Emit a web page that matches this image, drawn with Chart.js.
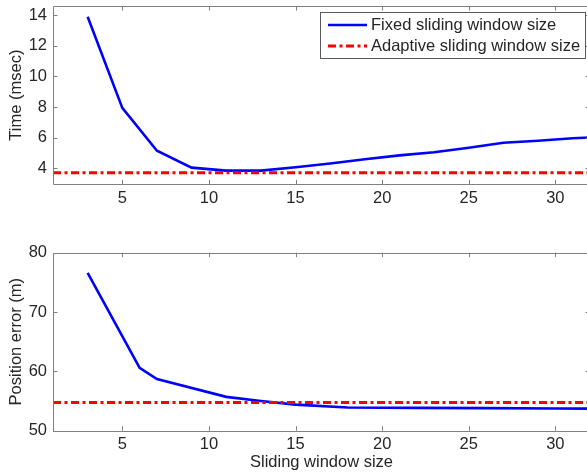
<!DOCTYPE html>
<html>
<head>
<meta charset="utf-8">
<script src="https://cdn.jsdelivr.net/npm/chart.js@4.4.0/dist/chart.umd.min.js"></script>
<style>
html,body{margin:0;padding:0;background:#fff;overflow:hidden;width:587px;height:474px;}
canvas{position:absolute;left:0;}
#c1{top:0;}
#c2{top:230px;}
</style>
</head>
<body>
<canvas id="c1" width="600" height="215"></canvas>
<canvas id="c2" width="600" height="244"></canvas>
<script>
// ---- data ----
const xTicks = [5, 10, 15, 20, 25, 30];
const timeTicks = [4, 6, 8, 10, 12, 14];
const errTicks = [50, 60, 70, 80];

const timeX = [3, 5, 7, 9, 11, 13, 15, 17, 19, 21, 23, 25, 27, 29, 31, 33];
const timeFixed = [13.9, 7.95, 5.15, 4.05, 3.85, 3.85, 4.07, 4.32, 4.6, 4.85, 5.05, 5.35, 5.67, 5.8, 5.97, 6.07];
const timeAdaptiveX = [1, 33];
const timeAdaptive = [3.72, 3.72];

const errX = [3, 6, 7, 11, 13, 15, 18, 22, 26, 30, 33];
const errFixed = [76.6, 60.6, 58.7, 55.7, 55.0, 54.4, 53.9, 53.85, 53.8, 53.75, 53.7];
const errAdaptiveX = [1, 33];
const errAdaptive = [54.75, 54.75];

const labels = ['Fixed sliding window size', 'Adaptive sliding window size'];

// ---- styling ----
const FONT = "'Liberation Sans', Arial, sans-serif";
const FS = 16.5;
const TXT = '#262626';
const AXIS = '#808080';

function pts(xs, ys){ return xs.map((x,i)=>({x:x, y:ys[i]})); }

const boxPlugin = {
  id: 'box',
  afterDatasetsDraw(chart){
    const {ctx, chartArea:a, scales} = chart;
    ctx.save();
    ctx.strokeStyle = AXIS; ctx.lineWidth = 1;
    ctx.beginPath();
    ctx.rect(Math.round(a.left)+0.5, Math.round(a.top)+0.5, Math.round(a.right-a.left), Math.round(a.bottom-a.top));
    ctx.stroke();
    const L = 4.5;
    ctx.beginPath();
    scales.x.ticks.forEach(t=>{
      const px = Math.round(scales.x.getPixelForValue(t.value))+0.5;
      ctx.moveTo(px, a.bottom); ctx.lineTo(px, a.bottom-L);
      ctx.moveTo(px, a.top); ctx.lineTo(px, a.top+L);
    });
    scales.y.ticks.forEach(t=>{
      const py = Math.round(scales.y.getPixelForValue(t.value))+0.5;
      ctx.moveTo(a.left, py); ctx.lineTo(a.left+L, py);
      ctx.moveTo(a.right, py); ctx.lineTo(a.right-L, py);
    });
    ctx.stroke();
    ctx.restore();
  }
};

const legendPlugin = {
  id: 'mlegend',
  afterDraw(chart){
    if (!chart.options.plugins.mlegend || !chart.options.plugins.mlegend.show) return;
    const ctx = chart.ctx;
    ctx.save();
    const x0 = 320.5, y0 = 12.5, w = 265, h = 46;
    ctx.fillStyle = '#fff';
    ctx.fillRect(x0, y0, w, h);
    ctx.strokeStyle = '#5a5a5a'; ctx.lineWidth = 1;
    ctx.strokeRect(x0, y0, w, h);
    ctx.font = FS + 'px ' + FONT;
    ctx.textBaseline = 'middle';
    ctx.textAlign = 'left';
    chart.data.datasets.forEach((ds, i)=>{
      const y = 25 + i*21;
      ctx.strokeStyle = ds.borderColor;
      ctx.lineWidth = ds.borderWidth;
      ctx.setLineDash(ds.borderDash || []);
      ctx.beginPath(); ctx.moveTo(328, y); ctx.lineTo(367, y); ctx.stroke();
      ctx.setLineDash([]);
      ctx.fillStyle = TXT;
      ctx.fillText(ds.label, 371, y);
    });
    ctx.restore();
  }
};

function makeChart(id, opts){
  return new Chart(document.getElementById(id), {
    type: 'line',
    data: {
      datasets: [
        { label: labels[0], data: pts(opts.x, opts.fixed), borderColor: '#0000ff', borderWidth: 2.6,
          pointRadius: 0, tension: 0, fill: false, order: 1 },
        { label: labels[1], data: pts(opts.ax, opts.adaptive), borderColor: '#ff0000', borderWidth: 3,
          borderDash: [8, 3.5, 3, 3.5], pointRadius: 0, tension: 0, fill: false, order: 0 }
      ]
    },
    options: {
      responsive: false,
      animation: false,
      events: [],
      layout: { padding: { top: opts.padTop, right: 10, bottom: 0, left: 0 } },
      plugins: { legend: { display: false }, tooltip: { enabled: false }, mlegend: { show: opts.legend } },
      scales: {
        x: {
          type: 'linear', min: 1, max: 32,
          grid: { display: false, drawTicks: false },
          border: { display: false },
          afterBuildTicks: s => { s.ticks = xTicks.map(v=>({value:v})); },
          afterFit: s => { s.height = opts.xHeight; s.paddingLeft = 0; s.paddingRight = 0; },
          ticks: { color: TXT, font: { family: FONT, size: FS }, padding: 4, maxRotation: 0, autoSkip: false },
          title: opts.xTitle ? { display: true, text: opts.xTitle, color: TXT, font: { family: FONT, size: FS }, padding: { top: 0, bottom: 2 } } : { display: false }
        },
        y: {
          type: 'linear', min: opts.ymin, max: opts.ymax,
          grid: { display: false, drawTicks: false },
          border: { display: false },
          afterBuildTicks: s => { s.ticks = opts.yTicks.map(v=>({value:v})); },
          afterFit: s => { s.width = 53; s.paddingTop = 0; s.paddingBottom = 0; },
          ticks: { color: TXT, font: { family: FONT, size: FS }, padding: 6, autoSkip: false },
          title: { display: true, text: opts.yTitle, color: TXT, font: { family: FONT, size: FS }, padding: { top: 7, bottom: 0 } }
        }
      }
    },
    plugins: [boxPlugin, legendPlugin]
  });
}

makeChart('c1', {
  x: timeX, fixed: timeFixed, ax: timeAdaptiveX, adaptive: timeAdaptive,
  ymin: 2.96, ymax: 14.6, yTicks: timeTicks, yTitle: 'Time (msec)',
  padTop: 6, xHeight: 30.7, legend: true, xTitle: null
});
makeChart('c2', {
  x: errX, fixed: errFixed, ax: errAdaptiveX, adaptive: errAdaptive,
  ymin: 50, ymax: 80, yTicks: errTicks, yTitle: 'Position error (m)',
  padTop: 22.7, xHeight: 43.3, legend: false, xTitle: 'Sliding window size'
});
</script>
</body>
</html>
